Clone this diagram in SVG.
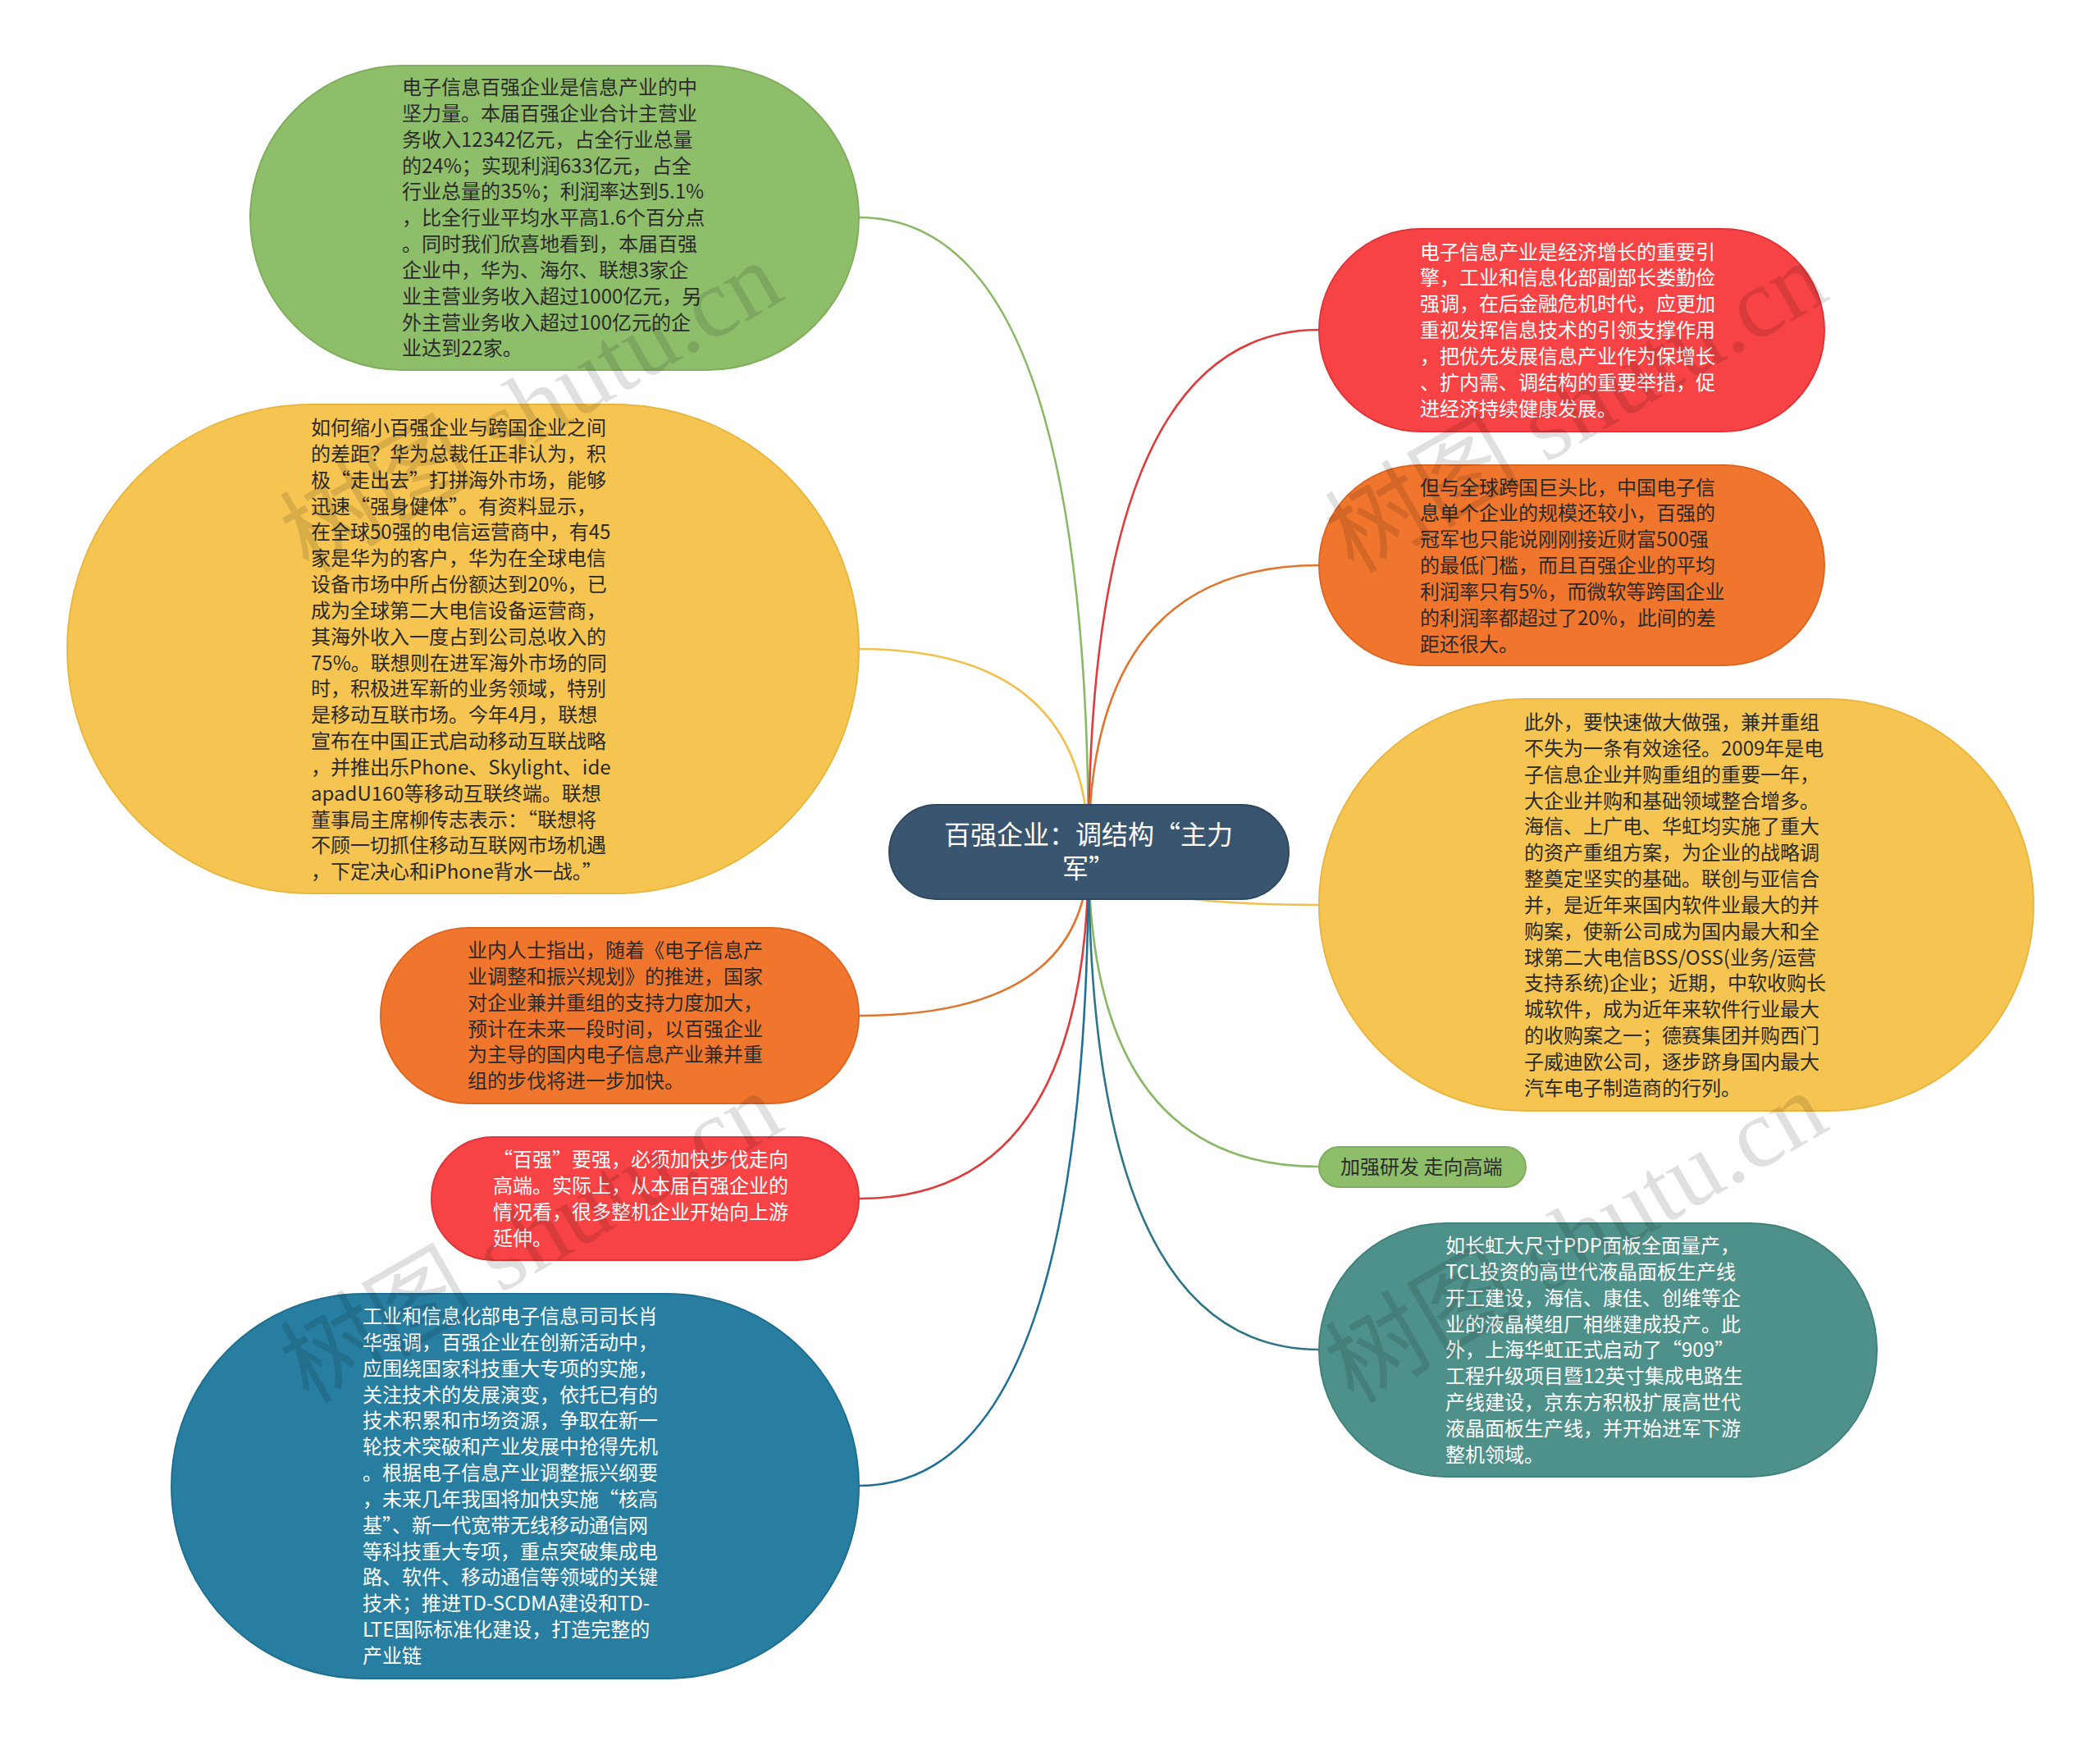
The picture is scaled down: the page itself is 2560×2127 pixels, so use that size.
<svg xmlns="http://www.w3.org/2000/svg" width="2560" height="2127" viewBox="0 0 2560 2127">
<style>
  .bg { fill: #ffffff; }
  .edge { fill: none; stroke-width: 2.6; }
  .node { stroke-width: 2; }
  .t { font-family: "Noto Sans CJK SC", "Noto Sans", sans-serif; font-size: 24px; }
  .dark { fill: #2b2b2b; }
  .light { fill: #ffffff; }
  .root { font-family: "Noto Sans CJK SC", "Noto Sans", sans-serif; font-size: 32px; fill: #ffffff; }
  .wm { font-family: "Liberation Serif", "Noto Sans CJK SC", serif; font-size: 120px; fill: #000000; fill-opacity: 0.12; }
  .green { fill: #8fbe6b; stroke: #7fae5c; }
  .yellow { fill: #f6c551; stroke: #e9b640; }
  .orange { fill: #f0762d; stroke: #de6621; }
  .red { fill: #f74345; stroke: #e03538; }
  .blue { fill: #277ea1; stroke: #1f6f90; }
  .teal { fill: #4e918a; stroke: #40827b; }
  .navy { fill: #3a556f; stroke: #2f4860; }
</style>
<rect class="bg" x="0" y="0" width="2560" height="2127"/>

<g id="connectors">
  <path class="edge" stroke="#8ab866" d="M1327,1038 Q1327,265 1047,265"/>
  <path class="edge" stroke="#f2c04c" d="M1327,1038 Q1327,791 1047,791"/>
  <path class="edge" stroke="#e2742c" d="M1327,1038 Q1327,1238 1047,1238"/>
  <path class="edge" stroke="#e03c3e" d="M1327,1038 Q1327,1461 1047,1461"/>
  <path class="edge" stroke="#1f6f96" d="M1327,1038 Q1327,1811 1047,1811"/>
  <path class="edge" stroke="#e03c3e" d="M1327,1038 Q1327,402 1608,402"/>
  <path class="edge" stroke="#e2742c" d="M1327,1038 Q1327,689 1608,689"/>
  <path class="edge" stroke="#f2c04c" d="M1327,1038 Q1327,1103 1608,1103"/>
  <path class="edge" stroke="#8ab866" d="M1327,1038 Q1327,1422 1608,1422"/>
  <path class="edge" stroke="#2e7585" d="M1327,1038 Q1327,1645 1608,1645"/>
</g>

<g id="root">
  <rect class="node navy" x="1084" y="981" width="487" height="115" rx="57.5"/>
  <text class="root" text-anchor="middle"><tspan x="1327" y="1029">百强企业：调结构“主力</tspan><tspan x="1327" y="1070">军”</tspan></text>
</g>

<g id="n1">
  <rect class="node green" x="305" y="80" width="742" height="371" rx="185.5"/>
  <text class="t dark"><tspan x="490" y="115">电子信息百强企业是信息产业的中</tspan><tspan x="490" dy="31.84">坚力量。本届百强企业合计主营业</tspan><tspan x="490" dy="31.84">务收入12342亿元，占全行业总量</tspan><tspan x="490" dy="31.84">的24%；实现利润633亿元，占全</tspan><tspan x="490" dy="31.84">行业总量的35%；利润率达到5.1%</tspan><tspan x="490" dy="31.84">，比全行业平均水平高1.6个百分点</tspan><tspan x="490" dy="31.84">。同时我们欣喜地看到，本届百强</tspan><tspan x="490" dy="31.84">企业中，华为、海尔、联想3家企</tspan><tspan x="490" dy="31.84">业主营业务收入超过1000亿元，另</tspan><tspan x="490" dy="31.84">外主营业务收入超过100亿元的企</tspan><tspan x="490" dy="31.84">业达到22家。</tspan></text>
</g>

<g id="n2">
  <rect class="node yellow" x="82" y="493" width="965" height="596" rx="298"/>
  <text class="t dark"><tspan x="379" y="530">如何缩小百强企业与跨国企业之间</tspan><tspan x="379" dy="31.84">的差距？华为总裁任正非认为，积</tspan><tspan x="379" dy="31.84">极“走出去”打拼海外市场，能够</tspan><tspan x="379" dy="31.84">迅速“强身健体”。有资料显示，</tspan><tspan x="379" dy="31.84">在全球50强的电信运营商中，有45</tspan><tspan x="379" dy="31.84">家是华为的客户，华为在全球电信</tspan><tspan x="379" dy="31.84">设备市场中所占份额达到20%，已</tspan><tspan x="379" dy="31.84">成为全球第二大电信设备运营商，</tspan><tspan x="379" dy="31.84">其海外收入一度占到公司总收入的</tspan><tspan x="379" dy="31.84">75%。联想则在进军海外市场的同</tspan><tspan x="379" dy="31.84">时，积极进军新的业务领域，特别</tspan><tspan x="379" dy="31.84">是移动互联市场。今年4月，联想</tspan><tspan x="379" dy="31.84">宣布在中国正式启动移动互联战略</tspan><tspan x="379" dy="31.84">，并推出乐Phone、Skylight、ide</tspan><tspan x="379" dy="31.84">apadU160等移动互联终端。联想</tspan><tspan x="379" dy="31.84">董事局主席柳传志表示：“联想将</tspan><tspan x="379" dy="31.84">不顾一切抓住移动互联网市场机遇</tspan><tspan x="379" dy="31.84">，下定决心和iPhone背水一战。”</tspan></text>
</g>

<g id="n3">
  <rect class="node orange" x="464" y="1131" width="583" height="214" rx="107"/>
  <text class="t dark"><tspan x="570" y="1167">业内人士指出，随着《电子信息产</tspan><tspan x="570" dy="31.84">业调整和振兴规划》的推进，国家</tspan><tspan x="570" dy="31.84">对企业兼并重组的支持力度加大，</tspan><tspan x="570" dy="31.84">预计在未来一段时间，以百强企业</tspan><tspan x="570" dy="31.84">为主导的国内电子信息产业兼并重</tspan><tspan x="570" dy="31.84">组的步伐将进一步加快。</tspan></text>
</g>

<g id="n4">
  <rect class="node red" x="526" y="1386" width="521" height="150" rx="75"/>
  <text class="t light"><tspan x="601" y="1422">“百强”要强，必须加快步伐走向</tspan><tspan x="601" dy="31.84">高端。实际上，从本届百强企业的</tspan><tspan x="601" dy="31.84">情况看，很多整机企业开始向上游</tspan><tspan x="601" dy="31.84">延伸。</tspan></text>
</g>

<g id="n5">
  <rect class="node blue" x="209" y="1577" width="838" height="469" rx="234.5"/>
  <text class="t light"><tspan x="442" y="1613">工业和信息化部电子信息司司长肖</tspan><tspan x="442" dy="31.84">华强调，百强企业在创新活动中，</tspan><tspan x="442" dy="31.84">应围绕国家科技重大专项的实施，</tspan><tspan x="442" dy="31.84">关注技术的发展演变，依托已有的</tspan><tspan x="442" dy="31.84">技术积累和市场资源，争取在新一</tspan><tspan x="442" dy="31.84">轮技术突破和产业发展中抢得先机</tspan><tspan x="442" dy="31.84">。根据电子信息产业调整振兴纲要</tspan><tspan x="442" dy="31.84">，未来几年我国将加快实施“核高</tspan><tspan x="442" dy="31.84">基”、新一代宽带无线移动通信网</tspan><tspan x="442" dy="31.84">等科技重大专项，重点突破集成电</tspan><tspan x="442" dy="31.84">路、软件、移动通信等领域的关键</tspan><tspan x="442" dy="31.84">技术；推进TD-SCDMA建设和TD-</tspan><tspan x="442" dy="31.84">LTE国际标准化建设，打造完整的</tspan><tspan x="442" dy="31.84">产业链</tspan></text>
</g>

<g id="n6">
  <rect class="node red" x="1608" y="279" width="616" height="247" rx="123.5"/>
  <text class="t light"><tspan x="1731" y="315.5">电子信息产业是经济增长的重要引</tspan><tspan x="1731" dy="31.84">擎，工业和信息化部副部长娄勤俭</tspan><tspan x="1731" dy="31.84">强调，在后金融危机时代，应更加</tspan><tspan x="1731" dy="31.84">重视发挥信息技术的引领支撑作用</tspan><tspan x="1731" dy="31.84">，把优先发展信息产业作为保增长</tspan><tspan x="1731" dy="31.84">、扩内需、调结构的重要举措，促</tspan><tspan x="1731" dy="31.84">进经济持续健康发展。</tspan></text>
</g>

<g id="n7">
  <rect class="node orange" x="1608" y="567" width="616" height="244" rx="122"/>
  <text class="t dark"><tspan x="1731" y="602.5">但与全球跨国巨头比，中国电子信</tspan><tspan x="1731" dy="31.84">息单个企业的规模还较小，百强的</tspan><tspan x="1731" dy="31.84">冠军也只能说刚刚接近财富500强</tspan><tspan x="1731" dy="31.84">的最低门槛，而且百强企业的平均</tspan><tspan x="1731" dy="31.84">利润率只有5%，而微软等跨国企业</tspan><tspan x="1731" dy="31.84">的利润率都超过了20%，此间的差</tspan><tspan x="1731" dy="31.84">距还很大。</tspan></text>
</g>

<g id="n8">
  <rect class="node yellow" x="1608" y="852" width="871" height="502" rx="251"/>
  <text class="t dark"><tspan x="1858" y="889">此外，要快速做大做强，兼并重组</tspan><tspan x="1858" dy="31.84">不失为一条有效途径。2009年是电</tspan><tspan x="1858" dy="31.84">子信息企业并购重组的重要一年，</tspan><tspan x="1858" dy="31.84">大企业并购和基础领域整合增多。</tspan><tspan x="1858" dy="31.84">海信、上广电、华虹均实施了重大</tspan><tspan x="1858" dy="31.84">的资产重组方案，为企业的战略调</tspan><tspan x="1858" dy="31.84">整奠定坚实的基础。联创与亚信合</tspan><tspan x="1858" dy="31.84">并，是近年来国内软件业最大的并</tspan><tspan x="1858" dy="31.84">购案，使新公司成为国内最大和全</tspan><tspan x="1858" dy="31.84">球第二大电信BSS/OSS(业务/运营</tspan><tspan x="1858" dy="31.84">支持系统)企业；近期，中软收购长</tspan><tspan x="1858" dy="31.84">城软件，成为近年来软件行业最大</tspan><tspan x="1858" dy="31.84">的收购案之一；德赛集团并购西门</tspan><tspan x="1858" dy="31.84">子威迪欧公司，逐步跻身国内最大</tspan><tspan x="1858" dy="31.84">汽车电子制造商的行列。</tspan></text>
</g>

<g id="n9">
  <rect class="node green" x="1608" y="1398" width="252" height="49" rx="24.5"/>
  <text class="t dark" x="1634" y="1431">加强研发 走向高端</text>
</g>

<g id="n10">
  <rect class="node teal" x="1608" y="1491" width="680" height="309" rx="154.5"/>
  <text class="t light"><tspan x="1762" y="1527">如长虹大尺寸PDP面板全面量产，</tspan><tspan x="1762" dy="31.84">TCL投资的高世代液晶面板生产线</tspan><tspan x="1762" dy="31.84">开工建设，海信、康佳、创维等企</tspan><tspan x="1762" dy="31.84">业的液晶模组厂相继建成投产。此</tspan><tspan x="1762" dy="31.84">外，上海华虹正式启动了“909”</tspan><tspan x="1762" dy="31.84">工程升级项目暨12英寸集成电路生</tspan><tspan x="1762" dy="31.84">产线建设，京东方积极扩展高世代</tspan><tspan x="1762" dy="31.84">液晶面板生产线，并开始进军下游</tspan><tspan x="1762" dy="31.84">整机领域。</tspan></text>
</g>

<g id="watermarks">
  <text class="wm" transform="translate(376,700) rotate(-30)">树图 shutu.cn</text>
  <text class="wm" transform="translate(376,1712) rotate(-30)">树图 shutu.cn</text>
  <text class="wm" transform="translate(1650,700) rotate(-30)">树图 shutu.cn</text>
  <text class="wm" transform="translate(1650,1712) rotate(-30)">树图 shutu.cn</text>
</g>
</svg>
